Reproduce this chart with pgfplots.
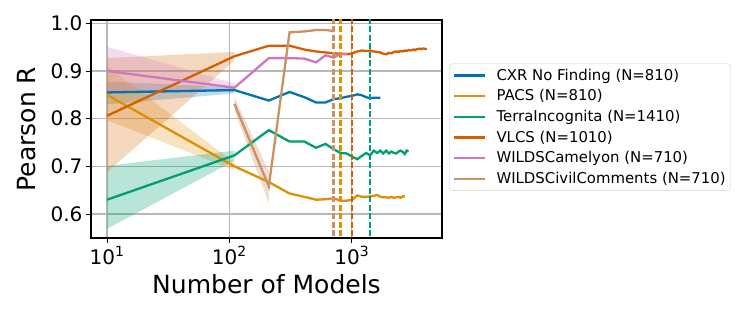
\documentclass[border=0pt]{standalone}
\usepackage{fontspec}
\setmainfont{DejaVu Sans}
\usepackage{pgfplots}
\pgfplotsset{compat=1.18}

\definecolor{cblue}{HTML}{0173B2}
\definecolor{corange}{HTML}{DE8F05}
\definecolor{cgreen}{HTML}{029E73}
\definecolor{cred}{HTML}{D55E00}
\definecolor{cpink}{HTML}{CC78BC}
\definecolor{cbrown}{HTML}{CA9161}

\begin{document}
\begin{tikzpicture}[x=1pt,y=1pt]
\path[use as bounding box] (0,0) rectangle (747,320);
\begin{axis}[
  at={(91pt,82pt)}, anchor=south west,
  width=351pt, height=218pt, scale only axis,
  xmode=log, log basis x=10,
  xmin=7.4, xmax=5460,
  ymin=0.5497, ymax=1.007,
  xtick={10,100,1000},
  xticklabels={10\textsuperscript{1},10\textsuperscript{2},10\textsuperscript{3}},
  ytick={0.6,0.7,0.8,0.9,1.0},
  yticklabel style={/pgf/number format/fixed,/pgf/number format/fixed zerofill,/pgf/number format/precision=1},
  /pgf/number format/assume math mode=true,
  tick label style={font=\fontsize{20}{24}\selectfont, black},
  label style={font=\fontsize{25}{30}\selectfont},
  xlabel={Number of Models},
  ylabel={Pearson R},
  xlabel style={yshift=-3pt},
  ylabel style={yshift=8pt},
  tick align=outside, xtick pos=bottom, ytick pos=left,
  major tick length=5pt, minor tick length=3pt,
  every tick/.style={black, line width=0.9pt},
  axis line style={black, line width=1.1pt},
  grid=major,
  major grid style={draw=black!28, line width=1.1pt},
  clip=true,
  legend cell align=left,
  legend style={at={(1.02,0.80)}, anchor=north west,
    font=\fontsize{14.9}{17}\selectfont,
    draw=black!18, rounded corners=3pt, fill=white,
    row sep=4.4pt, inner sep=3.5pt,
    nodes={inner sep=1.5pt, text depth=0.2em},
    /tikz/every even column/.append style={column sep=0pt}},
  legend image code/.code={\draw[#1, line width=2.3pt] (0pt,0pt) -- (31pt,0pt);},
  legend style={/tikz/every odd column/.append style={column sep=9pt}},
]
% uncertainty bands
\addplot[forget plot, draw=none, fill=cblue, fill opacity=0.25]
  coordinates {(10,0.878)(110,0.866)(110,0.853)(10,0.830)} -- cycle;
\addplot[forget plot, draw=none, fill=corange, fill opacity=0.25]
  coordinates {(10,0.910)(110,0.708)(110,0.692)(10,0.797)} -- cycle;
\addplot[forget plot, draw=none, fill=cgreen, fill opacity=0.28]
  coordinates {(10,0.701)(110,0.733)(110,0.712)(10,0.569)} -- cycle;
\addplot[forget plot, draw=none, fill=cred, fill opacity=0.25]
  coordinates {(10,0.927)(110,0.940)(110,0.922)(10,0.688)} -- cycle;
\addplot[forget plot, draw=none, fill=cpink, fill opacity=0.25]
  coordinates {(10,0.951)(110,0.874)(110,0.857)(10,0.855)} -- cycle;
\addplot[forget plot, draw=none, fill=cbrown, fill opacity=0.3]
  coordinates {(110,0.845)(210,0.690)(210,0.622)(110,0.818)} -- cycle;

% CXR No Finding
\addplot[cblue, line width=2.3pt] coordinates {
  (10,0.855)(110,0.860)(210,0.838)(310,0.856)(410,0.845)(510,0.834)(610,0.834)
  (710,0.841)(810,0.843)(910,0.846)(1010,0.848)(1110,0.851)(1210,0.849)
  (1310,0.845)(1410,0.843)(1510,0.844)(1610,0.844)(1710,0.844)};
\addlegendentry{CXR No Finding (N=810)}
% PACS
\addplot[corange, line width=2.3pt] coordinates {
  (10,0.850)(110,0.700)(210,0.667)(310,0.643)(410,0.636)(510,0.630)(610,0.631)
  (710,0.633)(810,0.628)(910,0.628)(1010,0.630)(1110,0.639)(1210,0.636)
  (1310,0.636)(1410,0.637)(1510,0.638)(1610,0.640)(1710,0.636)(1810,0.635)
  (1910,0.635)(2010,0.634)(2110,0.636)(2210,0.634)(2310,0.635)(2410,0.636)
  (2510,0.634)(2610,0.637)(2710,0.637)};
\addlegendentry{PACS (N=810)}
% TerraIncognita
\addplot[cgreen, line width=2.3pt] coordinates {
  (10,0.630)(110,0.723)(210,0.776)(310,0.752)(410,0.752)(510,0.739)(610,0.747)
  (710,0.736)(810,0.728)(910,0.727)(1010,0.720)(1110,0.715)(1210,0.722)
  (1310,0.728)(1410,0.723)(1510,0.733)(1610,0.728)(1710,0.733)(1810,0.727)
  (1910,0.733)(2010,0.727)(2110,0.731)(2210,0.728)(2310,0.727)(2410,0.731)
  (2510,0.733)(2610,0.730)(2710,0.726)(2810,0.733)(2910,0.731)};
\addlegendentry{TerraIncognita (N=1410)}
% VLCS
\addplot[cred, line width=2.3pt] coordinates {
  (10,0.806)(110,0.931)(210,0.953)(310,0.953)(410,0.945)(510,0.941)(610,0.939)
  (710,0.937)(810,0.936)(910,0.935)(1010,0.937)(1110,0.941)(1210,0.943)
  (1310,0.942)(1410,0.943)(1510,0.941)(1610,0.940)(1710,0.939)(1810,0.936)
  (1910,0.935)(2010,0.938)(2110,0.937)(2210,0.940)(2310,0.941)(2410,0.940)
  (2510,0.942)(2610,0.941)(2710,0.943)(2810,0.942)(2910,0.944)(3010,0.943)
  (3110,0.944)(3210,0.945)(3310,0.944)(3410,0.946)(3510,0.946)(3610,0.947)
  (3710,0.946)(3810,0.947)(3910,0.947)(4010,0.946)(4110,0.946)};
\addlegendentry{VLCS (N=1010)}
% WILDSCamelyon
\addplot[cpink, line width=2.3pt] coordinates {
  (10,0.900)(110,0.865)(210,0.927)(310,0.927)(410,0.926)(510,0.918)(610,0.933)
  (710,0.928)(810,0.936)(910,0.936)};
\addlegendentry{WILDSCamelyon (N=710)}
% WILDSCivilComments
\addplot[cbrown, line width=2.3pt] coordinates {
  (110,0.831)(210,0.658)(310,0.981)(410,0.983)(510,0.986)(610,0.986)(710,0.984)};
\addlegendentry{WILDSCivilComments (N=710)}

% dataset sizes
\addplot[forget plot, cblue, line width=2.3pt, dash pattern=on 6pt off 2.5pt] coordinates {(810,0.5)(810,1.1)};
\addplot[forget plot, corange, line width=2.3pt, dash pattern=on 6pt off 2.5pt] coordinates {(810,0.5)(810,1.1)};
\addplot[forget plot, cgreen, line width=2.3pt, dash pattern=on 6pt off 2.5pt] coordinates {(1410,0.5)(1410,1.1)};
\addplot[forget plot, cred, line width=2.3pt, dash pattern=on 6pt off 2.5pt] coordinates {(1010,0.5)(1010,1.1)};
\addplot[forget plot, cpink, line width=2.3pt, dash pattern=on 6pt off 2.5pt] coordinates {(710,0.5)(710,1.1)};
\addplot[forget plot, cbrown, line width=2.3pt, dash pattern=on 6pt off 2.5pt] coordinates {(710,0.5)(710,1.1)};
\end{axis}
\end{tikzpicture}
\end{document}
